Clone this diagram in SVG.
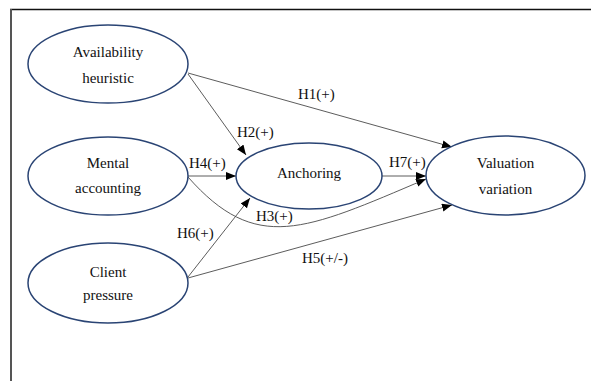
<svg xmlns="http://www.w3.org/2000/svg" width="591" height="381" viewBox="0 0 591 381">
<defs>
<style>
.node ellipse{fill:#fff;stroke:#2a4474;stroke-width:1.5}
text{font-family:"Liberation Serif","Times New Roman",serif;font-size:15px;fill:#111}
.node text{text-anchor:middle}
.conn path{fill:none;stroke:#4a4a4a;stroke-width:0.9}
</style>
<marker id="arr" markerUnits="userSpaceOnUse" markerWidth="11" markerHeight="9" refX="10" refY="4" orient="auto">
<path d="M0,0 L10,4 L0,8 z" fill="#000"/>
</marker>
</defs>
<rect width="591" height="381" fill="#fff"/>
<g id="frame">
<line x1="10" y1="9.5" x2="591" y2="9.5" stroke="#111" stroke-width="1.5"/>
<line x1="11" y1="9" x2="11" y2="381" stroke="#555" stroke-width="2"/>
</g>
<g class="conn" id="connectors">
<path d="M188,73 L452,147" marker-end="url(#arr)"/>
<path d="M188,74 L246,155" marker-end="url(#arr)"/>
<path d="M188,176 L236,176" marker-end="url(#arr)"/>
<path d="M188,177 C256,254 304,231 426,179" marker-end="url(#arr)"/>
<path d="M382,176 L426,176" marker-end="url(#arr)"/>
<path d="M188,277 L250,198" marker-end="url(#arr)"/>
<path d="M188,278 L452,205" marker-end="url(#arr)"/>
</g>
<g id="labels">
<text x="298" y="99">H1(+)</text>
<text x="237" y="137">H2(+)</text>
<text x="189" y="168">H4(+)</text>
<text x="389" y="167">H7(+)</text>
<text x="256" y="221">H3(+)</text>
<text x="177" y="238">H6(+)</text>
<text x="302" y="263">H5(+/-)</text>
</g>
<g class="node" id="availability">
<ellipse cx="108" cy="64" rx="80" ry="39"/>
<text x="108" y="57">Availability</text>
<text x="108" y="83">heuristic</text>
</g>
<g class="node" id="mental">
<ellipse cx="108" cy="176" rx="80" ry="39"/>
<text x="108" y="168">Mental</text>
<text x="108" y="193">accounting</text>
</g>
<g class="node" id="client">
<ellipse cx="108" cy="283" rx="80" ry="40"/>
<text x="108" y="277">Client</text>
<text x="108" y="300">pressure</text>
</g>
<g class="node" id="anchoring">
<ellipse cx="309" cy="176" rx="73" ry="33"/>
<text x="309" y="178">Anchoring</text>
</g>
<g class="node" id="valuation">
<ellipse cx="505.5" cy="175.5" rx="79.5" ry="39.5"/>
<text x="505.5" y="168">Valuation</text>
<text x="505.5" y="194">variation</text>
</g>
</svg>
